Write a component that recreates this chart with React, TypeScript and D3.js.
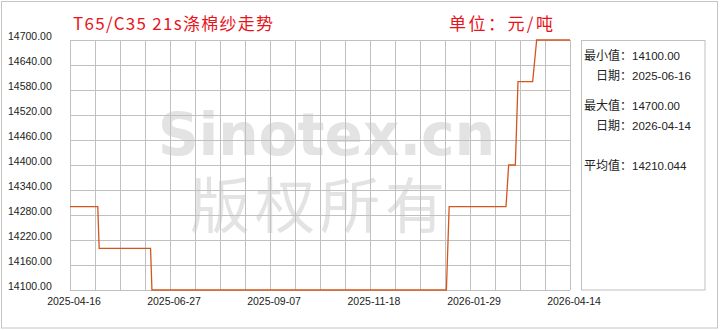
import React from "react";
import * as d3 from "d3";

const titleText = "T65/C35 21s涤棉纱走势";
const unitText = "单位：元/吨";
const yTicks = [14100, 14160, 14220, 14280, 14340, 14400, 14460, 14520, 14580, 14640, 14700];
const xTickLabels = ["2025-04-16", "2025-06-27", "2025-09-07", "2025-11-18", "2026-01-29", "2026-04-14"];
const seriesDates = [
  "2025-04-16", "2025-05-06", "2025-05-07", "2025-06-13", "2025-06-14",
  "2026-01-12", "2026-01-14", "2026-02-25", "2026-02-27", "2026-03-04",
  "2026-03-06", "2026-03-17", "2026-03-20", "2026-04-14",
];
const seriesValues = [
  14300, 14300, 14200, 14200, 14100,
  14100, 14300, 14300, 14400, 14400,
  14600, 14600, 14700, 14700,
];
const statLabels = ["最小值：", "日期：", "最大值：", "日期：", "平均值："];
const statValues = ["14100.00", "2025-06-16", "14700.00", "2026-04-14", "14210.044"];

const W = 720;
const H = 330;
const plot = { left: 70, top: 40, right: 570, bottom: 290 };
const cn = "'Noto Sans CJK SC', 'Liberation Sans', sans-serif";
const num = "'Liberation Sans', Arial, sans-serif";

export default function App() {
  const parse = d3.utcParse("%Y-%m-%d");
  const tickDates = xTickLabels.map((s) => parse(s) as Date);
  const pw = plot.right - plot.left;
  const x = d3
    .scaleUtc()
    .domain(tickDates)
    .range(tickDates.map((_, i) => plot.left + (i * pw) / (tickDates.length - 1)));
  const y = d3.scaleLinear().domain([14100, 14700]).range([plot.bottom, plot.top]);
  const data = seriesDates.map((d, i) => ({ date: parse(d) as Date, value: seriesValues[i] }));
  const line = d3
    .line<{ date: Date; value: number }>()
    .x((d) => x(d.date))
    .y((d) => y(d.value));
  const vCols = 20;
  const vLines = d3.range(vCols + 1).map((i) => plot.left + (i * pw) / vCols);

  const statY = [60, 80, 110, 130, 170];
  const statX = [584, 596, 584, 596, 584];

  return (
    <svg
      width={W}
      height={H}
      viewBox={`0 0 ${W} ${H}`}
      style={{ position: "absolute", left: 0, top: 0, background: "#fff" }}
    >
      <rect x={1.5} y={1.5} width={716} height={326.5} fill="#fff" stroke="#c4c4c4" strokeWidth={1} />
      {/* watermark */}
      <text
        x={158}
        y={155}
        fontFamily="'DejaVu Sans', sans-serif"
        fontWeight="bold"
        fontSize={58}
        fill="#e3e3e3"
        textLength={337}
        lengthAdjust="spacingAndGlyphs"
      >
        Sinotex.cn
      </text>
      <text
        x={190}
        y={228}
        fontFamily="'Noto Sans CJK SC', sans-serif"
        fontSize={60}
        fill="#e3e3e3"
        textLength={255}
        lengthAdjust="spacing"
      >
        版权所有
      </text>
      {/* grid */}
      <g stroke="#c0c0c0" strokeWidth={1} shapeRendering="crispEdges">
        {yTicks.map((t) => (
          <line key={"h" + t} x1={plot.left} x2={plot.right} y1={y(t)} y2={y(t)} />
        ))}
        {vLines.map((vx, i) => (
          <line key={"v" + i} x1={vx} x2={vx} y1={plot.top} y2={plot.bottom} />
        ))}
      </g>
      {/* y labels */}
      {yTicks.map((t) => (
        <text key={"yl" + t} x={8} y={y(t)} fontFamily={num} fontSize={10.5} fill="#222">
          {t.toFixed(2)}
        </text>
      ))}
      {/* x labels */}
      {tickDates.map((d, i) => (
        <text
          key={"xl" + i}
          x={x(d) + 4}
          y={304.5}
          textAnchor="middle"
          fontFamily={num}
          fontSize={10.5}
          fill="#222"
        >
          {xTickLabels[i]}
        </text>
      ))}
      {/* series */}
      <path d={line(data) || ""} fill="none" stroke="#d4561f" strokeWidth={1.3} />
      {/* title */}
      <text
        x={73}
        y={30}
        fontFamily={cn}
        fontSize={17}
        fill="#e8141c"
        textLength={200}
        lengthAdjust="spacing"
      >
        {titleText}
      </text>
      <text
        x={449}
        y={30}
        fontFamily={cn}
        fontSize={17}
        fill="#e8141c"
        textLength={104}
        lengthAdjust="spacing"
      >
        {unitText}
      </text>
      {/* stats panel */}
      <rect x={581.5} y={40.5} width={123.5} height={249.5} fill="#fff" stroke="#c0c0c0" strokeWidth={1} />
      {statLabels.map((l, i) => (
        <text key={"st" + i} x={statX[i]} y={statY[i]} fontFamily={cn} fontSize={12} fill="#222">
          <tspan>{l}</tspan>
          <tspan fontFamily={num} fontSize={11.5}>{statValues[i]}</tspan>
        </text>
      ))}
    </svg>
  );
}
